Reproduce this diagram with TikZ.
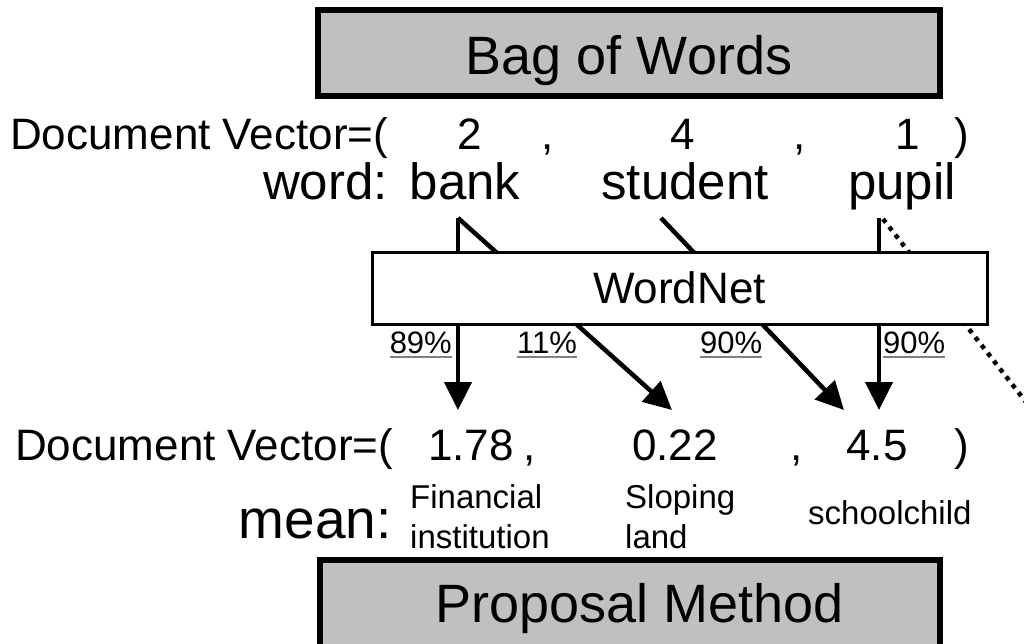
\documentclass[tikz,border=0pt]{standalone}
\usepackage{fontspec}
\setmainfont{Liberation Sans}
\usetikzlibrary{arrows.meta}
\definecolor{boxgray}{RGB}{192,192,192}
\begin{document}
\begin{tikzpicture}[x=1pt,y=-1pt]

  \tikzstyle{title} = [draw, line width=6, fill=boxgray]
  \tikzstyle{big} = [font=\fontsize{44}{44}\selectfont, inner sep=0, anchor=base]
  \tikzstyle{word} = [font=\fontsize{51}{51}\selectfont, inner sep=0, anchor=base]
  \tikzstyle{small} = [font=\fontsize{33}{40}\selectfont, inner sep=0, align=left]
  \tikzstyle{pct} = [font=\fontsize{31}{31}\selectfont, inner xsep=0, inner ysep=3.5, anchor=base west]
  \tikzstyle{ul} = [draw=gray, line width=1.5]
  \tikzstyle{arr} = [line width=4.5, -{Triangle[width=27,length=28]}]

  \useasboundingbox (0,0) rectangle (1024,644);

  \draw[title] (318,10) rectangle (940,96) node[midway,yshift=-8,font=\fontsize{54}{54}\selectfont] (bow) {Bag of Words};

  \node[big, anchor=base west] (dv1) at (10,150) {Document Vector=(};
  \node[big] (n2) at (470,150) {2};
  \node[big] (c1) at (548,150) {,};
  \node[big] (n4) at (683,150) {4};
  \node[big] (c2) at (800,150) {,};
  \node[big] (n1) at (908,150) {1};
  \node[big] (p1) at (962,150) {)};

  \node[word, anchor=base east] (wordl) at (388,200) {word:};
  \node[word] (bank) at (465,200) {bank};
  \node[word] (student) at (685,200) {student};
  \node[word] (pupil) at (902,200) {pupil};

  \coordinate (bankO) at (458,218);
  \coordinate (studentO) at (661,218);
  \coordinate (pupilO) at (879,218);
  \coordinate (pupilD) at (883,219);
  \coordinate (t178) at (458,410);
  \coordinate (t022) at (672,410);
  \coordinate (t45a) at (844,410);
  \coordinate (t45b) at (879,410);
  \coordinate (edge) at (1040,420);

  \draw[arr] (bankO) -- (t178);
  \draw[arr] (bankO) -- (t022);
  \draw[arr] (studentO) -- (t45a);
  \draw[arr] (pupilO) -- (t45b);
  \draw[line width=4.5, dash pattern=on 4.5 off 5.5] (pupilD) -- (edge);

  \draw[draw, fill=white, line width=3] (372,252) rectangle (987,324) node[midway,font=\fontsize{44}{44}\selectfont] (wn) {WordNet};

  \node[pct, anchor=base east] (w89) at (452,353) {89\%};
  \node[pct] (w11) at (517,353) {11\%};
  \node[pct] (w90a) at (700,353) {90\%};
  \node[pct] (w90b) at (883,353) {90\%};
  \draw[ul] (w89.south west) -- (w89.south east);
  \draw[ul] (w11.south west) -- (w11.south east);
  \draw[ul] (w90a.south west) -- (w90a.south east);
  \draw[ul] (w90b.south west) -- (w90b.south east);

  \node[big, anchor=base west] (dv2) at (15,460) {Document Vector=(};
  \node[big] (m178) at (471,460) {1.78};
  \node[big] (c3) at (530,460) {,};
  \node[big] (m022) at (675,460) {0.22};
  \node[big] (c4) at (797,460) {,};
  \node[big] (m45) at (877,460) {4.5};
  \node[big] (p2) at (962,460) {)};

  \node[font=\fontsize{55}{55}\selectfont, inner sep=0, anchor=base east] (mean) at (392,538) {mean:};
  \node[small, anchor=north west] (fin) at (410,484) {Financial\\institution};
  \node[small, anchor=north west] (slo) at (625,484) {Sloping\\land};
  \node[small, anchor=base west] (sch) at (808,524) {schoolchild};

  \draw[title] (320,560) rectangle (940,652) node[midway,xshift=10,yshift=-3,font=\fontsize{54}{54}\selectfont] (pm) {Proposal Method};

\end{tikzpicture}
\end{document}
